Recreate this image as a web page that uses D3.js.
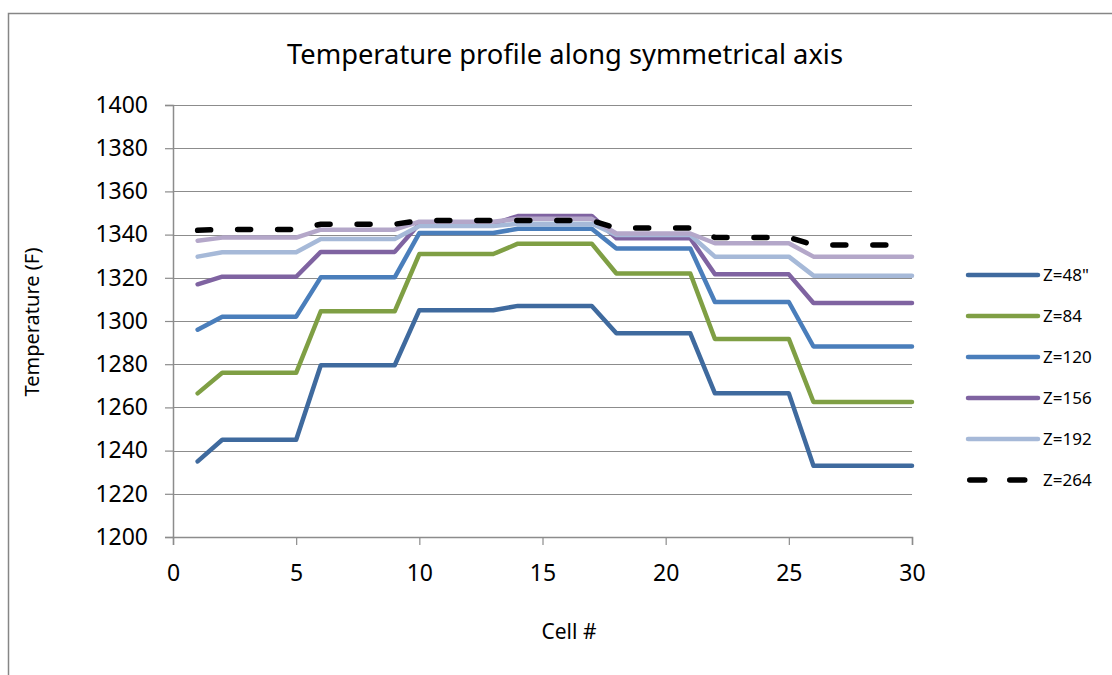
<!DOCTYPE html>
<html><head><meta charset="utf-8">
<script src="https://cdn.jsdelivr.net/npm/d3@7/dist/d3.min.js"></script>
<style>
html,body{margin:0;padding:0;background:#fff;}
svg text{font-family:"Noto Sans","Open Sans",sans-serif;fill:#000;}
</style></head>
<body>
<svg id="chart" width="1112" height="675"></svg>
<script>
const cells = d3.range(1, 31);
const xTicks = [0, 5, 10, 15, 20, 25, 30];
const yTicks = [1200, 1220, 1240, 1260, 1280, 1300, 1320, 1340, 1360, 1380, 1400];

function steps(v1, a, b, c, d, e, f, g) {
  // cell 1, cells 2-5, 6-9, 10-13, 14-17, 18-21, 22-25, 26-30
  return [v1, a, a, a, a, b, b, b, b, c, c, c, c, d, d, d, d, e, e, e, e, f, f, f, f, g, g, g, g, g];
}
const z48  = steps(1235.0, 1245.0, 1279.5, 1305.0, 1307.0, 1294.3, 1266.5, 1233.0);
const z84  = steps(1266.5, 1276.0, 1304.5, 1331.0, 1335.8, 1322.0, 1291.7, 1262.5);
const z120 = steps(1296.0, 1302.0, 1320.2, 1340.7, 1342.7, 1333.6, 1308.8, 1288.2);
const z156 = steps(1317.0, 1320.5, 1332.0, 1345.0, 1348.6, 1338.3, 1321.6, 1308.3);
const z192 = steps(1329.8, 1331.8, 1338.0, 1344.0, 1345.0, 1339.8, 1329.8, 1321.0);
const z228 = steps(1337.2, 1338.6, 1342.3, 1346.0, 1347.3, 1340.5, 1336.0, 1329.8);
const z264 = steps(1342.0, 1342.4, 1344.8, 1346.5, 1346.5, 1343.0, 1338.7, 1335.2);

const series = [
  {name: 'Z=48"', values: z48,  color: "#3f6a9e", dash: null, legend: true},
  {name: "Z=84",  values: z84,  color: "#7f9f44", dash: null, legend: true},
  {name: "Z=120", values: z120, color: "#4a7ebb", dash: null, legend: true},
  {name: "Z=156", values: z156, color: "#7f63a1", dash: null, legend: true},
  {name: "Z=192", values: z192, color: "#a6b9d8", dash: null, legend: true},
  {name: "Z=228", values: z228, color: "#b4a7c9", dash: null, legend: false},
  {name: "Z=264", values: z264, color: "#000000", dash: "13 27", legend: true}
];

const svg = d3.select("#chart");
const m = {left: 173, right: 912, top: 105, bottom: 537};

// outer chart border (extends past the picture edges)
svg.append("rect").attr("x", 8.5).attr("y", 13.5).attr("width", 1120).attr("height", 700)
  .attr("fill", "none").attr("stroke", "#868686").attr("stroke-width", 1.5);

const x = d3.scaleLinear().domain([0, 30]).range([m.left, m.right]);
const y = d3.scaleLinear().domain([1200, 1400]).range([m.bottom, m.top]);
const gridColor = "#8c8c8c";

// gridlines
svg.append("g").selectAll("line").data(yTicks.filter(d => d > 1200)).join("line")
  .attr("x1", m.left).attr("x2", m.right)
  .attr("y1", d => Math.round(y(d)) + 0.5).attr("y2", d => Math.round(y(d)) + 0.5)
  .attr("stroke", gridColor).attr("stroke-width", 1.2);

// y axis
const yAxis = svg.append("g").attr("transform", `translate(${m.left},0)`)
  .call(d3.axisLeft(y).tickValues(yTicks).tickSize(8).tickPadding(17).tickFormat(d3.format("d")));
yAxis.select(".domain").attr("stroke", gridColor).attr("stroke-width", 1.5);
yAxis.selectAll(".tick line").attr("stroke", gridColor).attr("stroke-width", 1.2);
yAxis.selectAll("text").style("font-size", "23px").attr("fill", "#000");

// x axis
const xAxis = svg.append("g").attr("transform", `translate(0,${m.bottom})`)
  .call(d3.axisBottom(x).tickValues(xTicks).tickSize(8).tickPadding(20).tickFormat(d3.format("d")));
xAxis.select(".domain").attr("stroke", gridColor).attr("stroke-width", 1.5);
xAxis.selectAll(".tick line").attr("stroke", gridColor).attr("stroke-width", 1.2);
xAxis.selectAll("text").style("font-size", "23px").attr("fill", "#000");

// lines
const line = d3.line().x((d, i) => x(cells[i])).y(d => y(d));
svg.append("g").selectAll("path").data(series).join("path")
  .attr("d", s => line(s.values))
  .attr("fill", "none")
  .attr("stroke", s => s.color)
  .attr("stroke-width", s => s.dash ? 5.5 : 4.5)
  .attr("stroke-linejoin", "round")
  .attr("stroke-linecap", "round")
  .attr("stroke-dasharray", s => s.dash);

// title
const title = svg.append("text").attr("x", 565).attr("y", 64).attr("text-anchor", "middle")
  .style("font-size", "26px").text("Temperature profile along symmetrical axis");
const tw = title.node().getComputedTextLength();
title.style("font-size", (26 * 556 / tw).toFixed(2) + "px");

// axis titles
svg.append("text").attr("x", 569).attr("y", 639).attr("text-anchor", "middle")
  .style("font-size", "21px").text("Cell #");
svg.append("text").attr("transform", "translate(39,322) rotate(-90)").attr("text-anchor", "middle")
  .style("font-size", "20px").text("Temperature (F)");

// legend
const legendItems = series.filter(s => s.legend);
const lg = svg.append("g").selectAll("g").data(legendItems).join("g")
  .attr("transform", (d, i) => `translate(0,${275 + i * 41})`);
lg.append("line")
  .attr("x1", d => d.dash ? 969.75 : 968)
  .attr("x2", d => d.dash ? 1024.75 : 1038)
  .attr("y1", 0).attr("y2", 0)
  .attr("stroke", d => d.color).attr("stroke-width", d => d.dash ? 5.5 : 4.5)
  .attr("stroke-linecap", "round")
  .attr("stroke-dasharray", d => d.dash ? "15 25" : null);
lg.append("text").attr("x", 1043).attr("y", 0).attr("dy", "0.35em")
  .style("font-size", "17px").text(d => d.name);
</script>
</body></html>
